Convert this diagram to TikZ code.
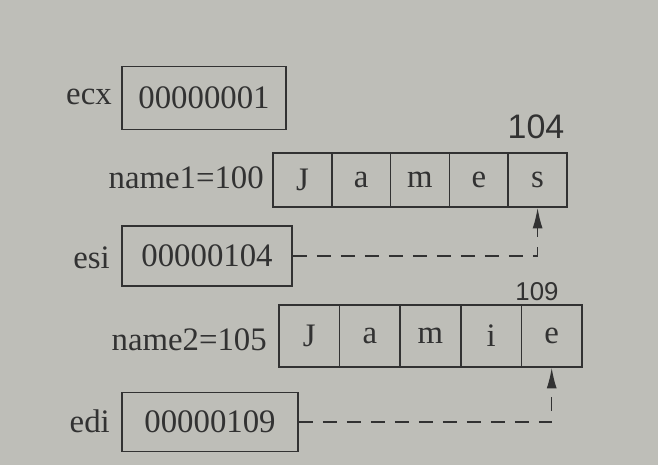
\documentclass[tikz,border=0pt]{standalone}
\usepackage{fontspec}
\setmainfont{Liberation Serif}
\newfontfamily\handfont{Liberation Sans}
\usetikzlibrary{arrows.meta}
\definecolor{paper}{RGB}{190,190,184}
\definecolor{ink}{RGB}{50,50,50}
\tikzset{
  regbox/.style={draw=ink,line width=1.4pt,minimum width=#1,minimum height=1.8cm,inner sep=0pt},
  cell/.style={draw=ink,line width=1.3pt,minimum width=#1,inner sep=0pt},
  lbl/.style={anchor=east,inner sep=0pt},
  note/.style={font=\handfont\fontsize{#1}{#1}\selectfont},
  ptr/.style={draw=ink,line width=1.2pt,dash pattern=on 0.42cm off 0.3cm,-{Latex[length=0.62cm,width=0.3cm]}}
}
\begin{document}
\begin{tikzpicture}[x=0.03cm,y=-0.03cm,font=\fontsize{28}{32}\selectfont,text=ink]
\useasboundingbox (0,0) rectangle (658,465);
\fill[paper] (0,0) rectangle (658,465);
% registers
\node[regbox=4.92cm,minimum height=1.89cm] (ecx) at (204,98) {00000001};
\node[regbox=5.1cm] (esi) at (207,256) {00000104};
\node[regbox=5.28cm,minimum height=1.77cm] (edi) at (210,422) {00000109};
\node[lbl] (ecxname) at (112,97) {ecx};
\node[lbl] (esiname) at (110,258) {esi};
\node[lbl] (ediname) at (110,421) {edi};
% strings in memory
\node[lbl] (name1) at (264,178) {name1=100};
\node[lbl] (name2) at (267,340) {name2=105};
\foreach \c [count=\i] in {J,a,m,e,s}
  \node[cell=1.77cm,minimum height=1.62cm] (sa\i) at ({273+58.8*(\i-0.5)},180) {\c};
\foreach \c [count=\i] in {J,a,m,i,e}
  \node[cell=1.82cm,minimum height=1.86cm] (sb\i) at ({279+60.6*(\i-0.5)},336) {\c};
% pencil notes
\node[note=29] (n104) at (536,127) {104};
\node[note=22] (n109) at (537,292) {109};
% pointers
\draw[ptr] (esi.east) -| (sa5.south);
\draw[ptr] (edi.east) -| (sb5.south);
\end{tikzpicture}
\end{document}
